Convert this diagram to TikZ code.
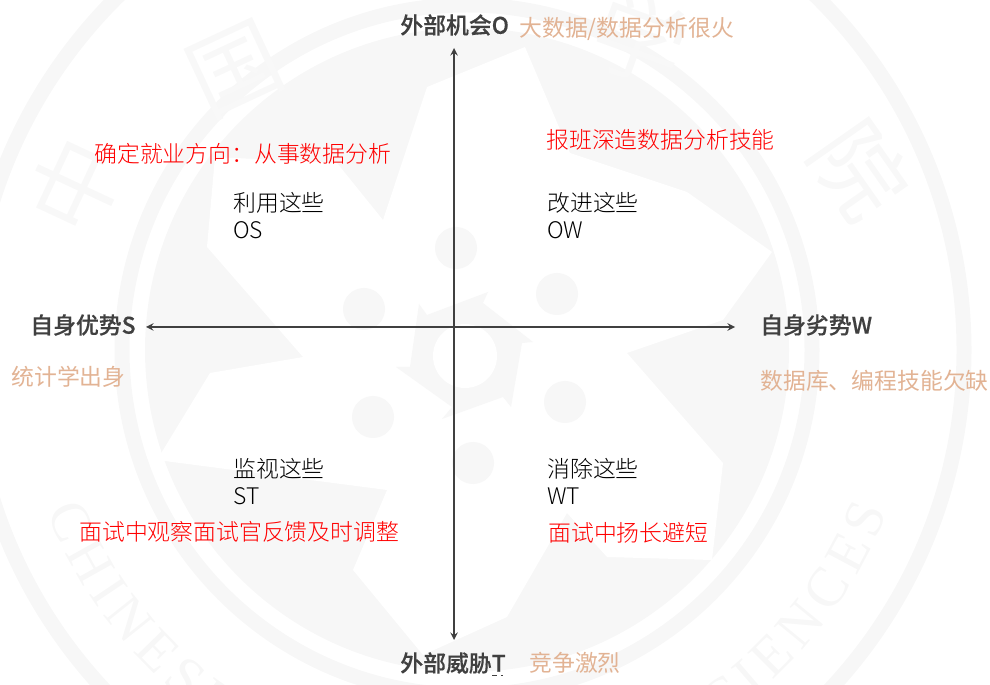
\documentclass[tikz,border=0pt]{standalone}
\usepackage{fontspec}
\setmainfont{Noto Sans CJK SC}[BoldFont={Noto Sans CJK SC Medium},BoldFeatures={FakeBold=0.4}]
\newfontfamily\wmfont{Liberation Serif}
\newfontfamily\thinfont{Noto Sans CJK SC Light}
\usetikzlibrary{decorations.text}
\definecolor{wmgray}{HTML}{F7F7F7}
\definecolor{wmlight}{HTML}{F8F8F8}
\definecolor{axisgray}{HTML}{404040}
\definecolor{peach}{HTML}{E2B394}
\tikzset{%
  heading/.style={anchor=west,inner sep=0,text=axisgray,font=\fontsize{13}{15}\selectfont\bfseries},
  factor/.style={anchor=west,inner sep=0,text=peach,font=\fontsize{13}{15}\selectfont},
  action/.style={anchor=west,inner sep=0,text=red,font=\fontsize{13}{15}\thinfont},
  hint/.style={anchor=west,inner sep=0,text=black,font=\fontsize{13}{15}\thinfont},
  wmdot/.style={fill=wmgray,draw=none},
  wmseal/.style={anchor=center,inner sep=0,text=wmlight,font=\fontsize{52}{54}\selectfont},
  axisline/.style={draw=axisgray,line width=0.9pt,<->,>=stealth}
}

\begin{document}
\begin{tikzpicture}[x=0.02cm,y=-0.02cm]
    \useasboundingbox (0,0) rectangle (990,685);
    \clip (0,0) rectangle (990,685);
    % watermark
    \draw[wmgray,line width=0.3cm] (467,350) circle (497);
    \draw[wmgray,line width=0.3cm] (467,350) circle (345);
    \fill[wmgray] (467,350) circle (322);
    \fill[white] (427,87) -- (525,47) -- (570,153) -- (687,192) -- (772,252) -- (723,320)
      -- (627,353) -- (723,463) -- (712,560) -- (607,557) -- (567,513) -- (507,617)
      -- (423,655) -- (353,570) -- (387,490) -- (157,460) -- (210,373) -- (303,357)
      -- (207,247) -- (215,157) -- (337,163) -- (383,220) -- cycle;
    \fill[wmgray] (488,292) -- (483,303) -- (533,342) -- (522,343) -- (511,407) -- (503,397)
      -- (442,419) -- (452,407) -- (396,367) -- (410,367) -- (419,304) -- (427,315) -- cycle;
    \fill[white] (465,356) circle (32);
    \foreach \wx/\wy in {456/248,557/294,364/309,373/417,565/402,473/463}
      \fill[wmdot] (\wx,\wy) circle (21);
    \path
      (75,185) node (wma)[wmseal,rotate=65]{中}
      (235,70) node (wmb)[wmseal,rotate=25]{国}
      (640,40) node (wmc)[wmseal,rotate=-20]{学}
      (860,170) node (wmd)[wmseal,rotate=-55]{院};
    \path[decorate,decoration={text along path,text align={fit to path},
        text={|\wmfont\fontsize{32}{34}\selectfont\color{wmgray}|CHINESE ACADEMY OF SCIENCES}}]
      (467,350) ++(159:450) arc[start angle=159,end angle=21,radius=450];
    % axes
    \path
      (454,48) coordinate (otop)
      (454,640) coordinate (tbottom)
      (146,327) coordinate (sleft)
      (735,327) coordinate (wright)
      (492,675) coordinate (tmarka)
      (503,675) coordinate (tmarkb);
    \draw[axisline] (otop) -- (tbottom);
    \draw[axisline] (sleft) -- (wright);
    \draw[axisgray,line width=0.3pt,densely dashed] (tmarka) -- (tmarkb);
    % headings and texts
    \path
      (400,25) node (o)[heading]{外部机会O}
      (400,663) node (t)[heading]{外部威胁T}
      (30,325) node (s)[heading]{自身优势S}
      (760,325) node (w)[heading]{自身劣势W}
      (519,29) node (fo)[factor]{大数据/数据分析很火}
      (529,663) node (ft)[factor]{竞争激烈}
      (11,377) node (fs)[factor]{统计学出身}
      (760,381) node (fw)[factor]{数据库、编程技能欠缺}
      (94,154) node (aos)[action]{确定就业方向：从事数据分析}
      (546,140) node (aow)[action]{报班深造数据分析技能}
      (79,532) node (ast)[action]{面试中观察面试官反馈及时调整}
      (548,533) node (awt)[action]{面试中扬长避短}
      (233,203) node (hos)[hint]{利用这些}
      (233,230) node (los)[hint]{OS}
      (547,203) node (how)[hint]{改进这些}
      (547,230) node (low)[hint]{OW}
      (233,469) node (hst)[hint]{监视这些}
      (233,496) node (lst)[hint]{ST}
      (547,469) node (hwt)[hint]{消除这些}
      (547,496) node (lwt)[hint]{WT};
  \end{tikzpicture}
\end{document}
